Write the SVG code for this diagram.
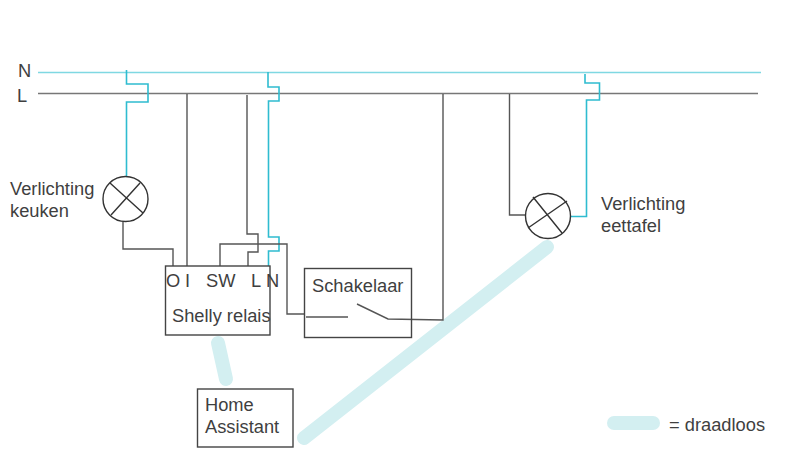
<svg xmlns="http://www.w3.org/2000/svg" width="800" height="450" viewBox="0 0 800 450">
<style>
text{font-family:"Liberation Sans",Arial,sans-serif;font-size:18.3px;fill:#3f3f3f}
.w{fill:none;stroke:#555;stroke-width:1.4}
.b{fill:none;stroke:#2fbcd0;stroke-width:1.6}
.lamp{fill:#fff;stroke:#333;stroke-width:1.4}
.air{fill:none;stroke:#d3eff1;stroke-width:14;stroke-linecap:round}
</style>
<rect width="800" height="450" fill="#fff"/>
<g id="wireless">
<path class="air" d="M218 343L226 379"/>
<path class="air" d="M304 438L547 247"/>
<path class="air" d="M614 423H653"/>
</g>
<g id="connectors">
<path d="M38 72.500H761" fill="none" stroke="#7fd8e2" stroke-width="1.300"/>
<path d="M38 93.500H758" fill="none" stroke="#777" stroke-width="1.300"/>
<path class="b" d="M126.500 70V84H148V102H126.500V176"/>
<path class="b" d="M268 72V87H279V101H268.500V237H279V251H268.500V266"/>
<path class="b" d="M585 74V83H599.500V100H586.500V216.500H571"/>
<path class="w" d="M187 94V266"/>
<path class="w" d="M247 95V234H258V252H248V266"/>
<path class="w" d="M220 266V244H287V314H304"/>
<path class="w" d="M443 94V320L388 319L357 304"/>
<path class="w" d="M306 317H348"/>
<path class="w" d="M509.500 94V215H526"/>
<path class="w" d="M123 222V249H173V266"/>
</g>
<g id="lamp-keuken">
<circle class="lamp" cx="125.500" cy="199" r="22.500"/>
<path class="w" style="stroke:#333" d="M110 183L143 213M140 183L111 215"/>
<text x="10" y="195">Verlichting</text><text x="10" y="217">keuken</text>
</g>
<g id="lamp-eettafel">
<circle class="lamp" cx="548" cy="216" r="22.500"/>
<path class="w" style="stroke:#333" d="M533 197L562 233M528 228L567 201"/>
<text x="601" y="210">Verlichting</text><text x="601" y="232">eettafel</text>
</g>
<g id="shelly">
<rect x="165.500" y="266" width="104.500" height="69" fill="none" stroke="#444" stroke-width="1.400"/>
<text x="166" y="287">O</text><text x="185" y="287">I</text><text x="206" y="287">SW</text><text x="251" y="287">L</text><text x="266" y="287">N</text>
<text x="172" y="322">Shelly relais</text>
</g>
<g id="schakelaar">
<rect x="304.500" y="268.500" width="107" height="69" fill="none" stroke="#444" stroke-width="1.400"/>
<text x="312" y="292">Schakelaar</text>
</g>
<g id="home-assistant">
<rect x="197.500" y="389" width="95.500" height="58" fill="#fff" stroke="#444" stroke-width="1.400"/>
<text x="205" y="411">Home</text><text x="205" y="433">Assistant</text>
</g>
<g id="labels">
<text x="18" y="77">N</text><text x="17" y="102">L</text>
<text x="669" y="431">= draadloos</text>
</g>
</svg>
